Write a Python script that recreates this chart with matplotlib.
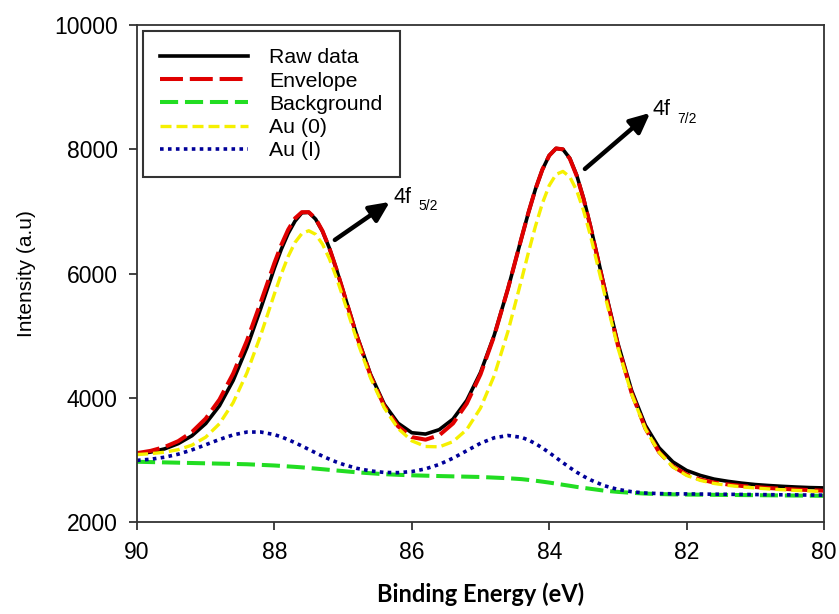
import matplotlib
matplotlib.use("Agg")
import matplotlib.pyplot as plt

plt.rcParams["font.family"] = ["Liberation Sans", "DejaVu Sans"]

# binding energy grid (eV)
energy = [90.0, 89.8, 89.6, 89.4, 89.2, 89.0, 88.8, 88.6, 88.4, 88.2, 88.0, 87.9,
          87.8, 87.7, 87.6, 87.5, 87.4, 87.3, 87.2, 87.1, 87.0, 86.8, 86.6, 86.4,
          86.2, 86.0, 85.8, 85.6, 85.4, 85.2, 85.0, 84.8, 84.6, 84.4, 84.3, 84.2,
          84.1, 84.0, 83.9, 83.8, 83.7, 83.6, 83.5, 83.4, 83.2, 83.0, 82.8, 82.6,
          82.4, 82.2, 82.0, 81.8, 81.6, 81.4, 81.2, 81.0, 80.8, 80.6, 80.4, 80.2,
          80.0]

raw_data = [3094, 3126, 3177, 3262, 3389, 3585, 3871, 4280, 4809, 5434, 6089, 6389,
            6645, 6844, 6978, 6985, 6875, 6680, 6410, 6080, 5721, 5004, 4376, 3895,
            3591, 3437, 3416, 3487, 3657, 3957, 4407, 5008, 5756, 6585, 6989, 7359,
            7671, 7899, 8014, 7999, 7855, 7584, 7211, 6767, 5799, 4877, 4117, 3557,
            3194, 2968, 2830, 2750, 2691, 2655, 2626, 2603, 2587, 2574, 2563, 2554,
            2549]

envelope = [3109, 3146, 3207, 3302, 3449, 3665, 3971, 4390, 4919, 5534, 6169, 6459,
            6705, 6889, 6988, 6988, 6885, 6685, 6410, 6080, 5721, 4994, 4356, 3865,
            3541, 3367, 3326, 3397, 3587, 3907, 4377, 4998, 5756, 6585, 6989, 7359,
            7671, 7899, 8014, 7999, 7849, 7574, 7201, 6757, 5779, 4847, 4077, 3507,
            3124, 2895, 2765, 2685, 2636, 2605, 2581, 2563, 2547, 2534, 2523, 2514,
            2504]

background = [2970, 2965, 2960, 2955, 2950, 2945, 2940, 2935, 2930, 2920, 2910, 2903,
              2895, 2888, 2880, 2870, 2860, 2850, 2840, 2830, 2820, 2800, 2785, 2770,
              2760, 2752, 2746, 2740, 2735, 2730, 2725, 2715, 2705, 2690, 2678, 2665,
              2650, 2635, 2618, 2600, 2583, 2565, 2550, 2535, 2505, 2485, 2470, 2458,
              2450, 2445, 2442, 2440, 2438, 2436, 2434, 2432, 2430, 2428, 2426, 2424,
              2422]

au0 = [3086, 3100, 3124, 3165, 3238, 3366, 3582, 3922, 4401, 5005, 5672, 5991,
       6274, 6500, 6644, 6689, 6631, 6474, 6238, 5943, 5613, 4930, 4318, 3837,
       3506, 3307, 3216, 3210, 3294, 3489, 3834, 4357, 5068, 5913, 6348, 6762,
       7128, 7417, 7596, 7644, 7556, 7337, 7014, 6613, 5699, 4807, 4059, 3499,
       3121, 2887, 2750, 2670, 2621, 2590, 2566, 2548, 2532, 2519, 2508, 2499,
       2489]

au1 = [2993, 3011, 3043, 3092, 3161, 3244, 3329, 3403, 3448, 3449, 3407, 3371,
       3326, 3277, 3224, 3169, 3114, 3061, 3012, 2967, 2928, 2864, 2823, 2798,
       2795, 2812, 2856, 2927, 3028, 3148, 3268, 3356, 3393, 3362, 3319, 3262,
       3193, 3117, 3036, 2955, 2876, 2802, 2737, 2679, 2585, 2525, 2488, 2466,
       2458, 2454, 2452, 2450, 2448, 2446, 2444, 2442, 2440, 2438, 2436, 2434,
       2432]

x_ticks = [90, 88, 86, 84, 82, 80]
y_ticks = [2000, 4000, 6000, 8000, 10000]

fig = plt.figure(figsize=(8.39, 6.14), dpi=100)
ax = fig.add_axes([0.1633, 0.1498, 0.8188, 0.8094])

ax.plot(energy, raw_data, color="black", lw=2.6, label="Raw data")
ax.plot(energy, envelope, color="#e00000", lw=2.9, dashes=(5.7, 1.7), label="Envelope")
ax.plot(energy, background, color="#22dd22", lw=2.9, dashes=(4.5, 1.7), label="Background")
ax.plot(energy, au0, color="#f5f000", lw=2.4, dashes=(3.3, 1.5), label="Au (0)")
ax.plot(energy, au1, color="#000099", lw=2.6, dashes=(1, 1.2), label="Au (I)")

ax.set_xlim(90, 80)
ax.set_ylim(2000, 10000)
ax.set_xticks(x_ticks)
ax.set_yticks(y_ticks)
ax.tick_params(direction="out", length=6, width=1.3, labelsize=16.5, pad=8,
               top=False, right=False, colors="#333333", labelcolor="black")
for s in ax.spines.values():
    s.set_color("#333333")
    s.set_linewidth(1.3)

ax.set_ylabel("Intensity (a.u)", fontsize=15, labelpad=13)
ax.set_xlabel("Binding Energy (eV)", fontsize=17, fontweight="bold",
              family=["Lato", "DejaVu Sans"], labelpad=13)

leg = ax.legend(loc="upper left", fontsize=15.3, handlelength=4.1, handletextpad=1.03,
                labelspacing=0.2, borderpad=0.8, borderaxespad=0.3,
                fancybox=False, framealpha=1)
leg.get_frame().set_edgecolor("#333333")
leg.get_frame().set_linewidth(1.5)

arrow = dict(arrowstyle="-|>,head_length=0.6,head_width=0.28", lw=3.2,
             color="black", shrinkA=0, shrinkB=0, mutation_scale=20)
ax.annotate("", xy=(86.32, 7153), xytext=(87.12, 6541), arrowprops=arrow)
ax.annotate("", xy=(82.53, 8586), xytext=(83.48, 7684), arrowprops=arrow)
ax.text(86.27, 7137, "4f", fontsize=15.5, va="baseline")
ax.text(85.91, 7020, "5/2", fontsize=10, va="baseline")
ax.text(82.49, 8554, "4f", fontsize=15.5, va="baseline")
ax.text(82.13, 8425, "7/2", fontsize=10, va="baseline")

fig.savefig("out.png", dpi=100)
